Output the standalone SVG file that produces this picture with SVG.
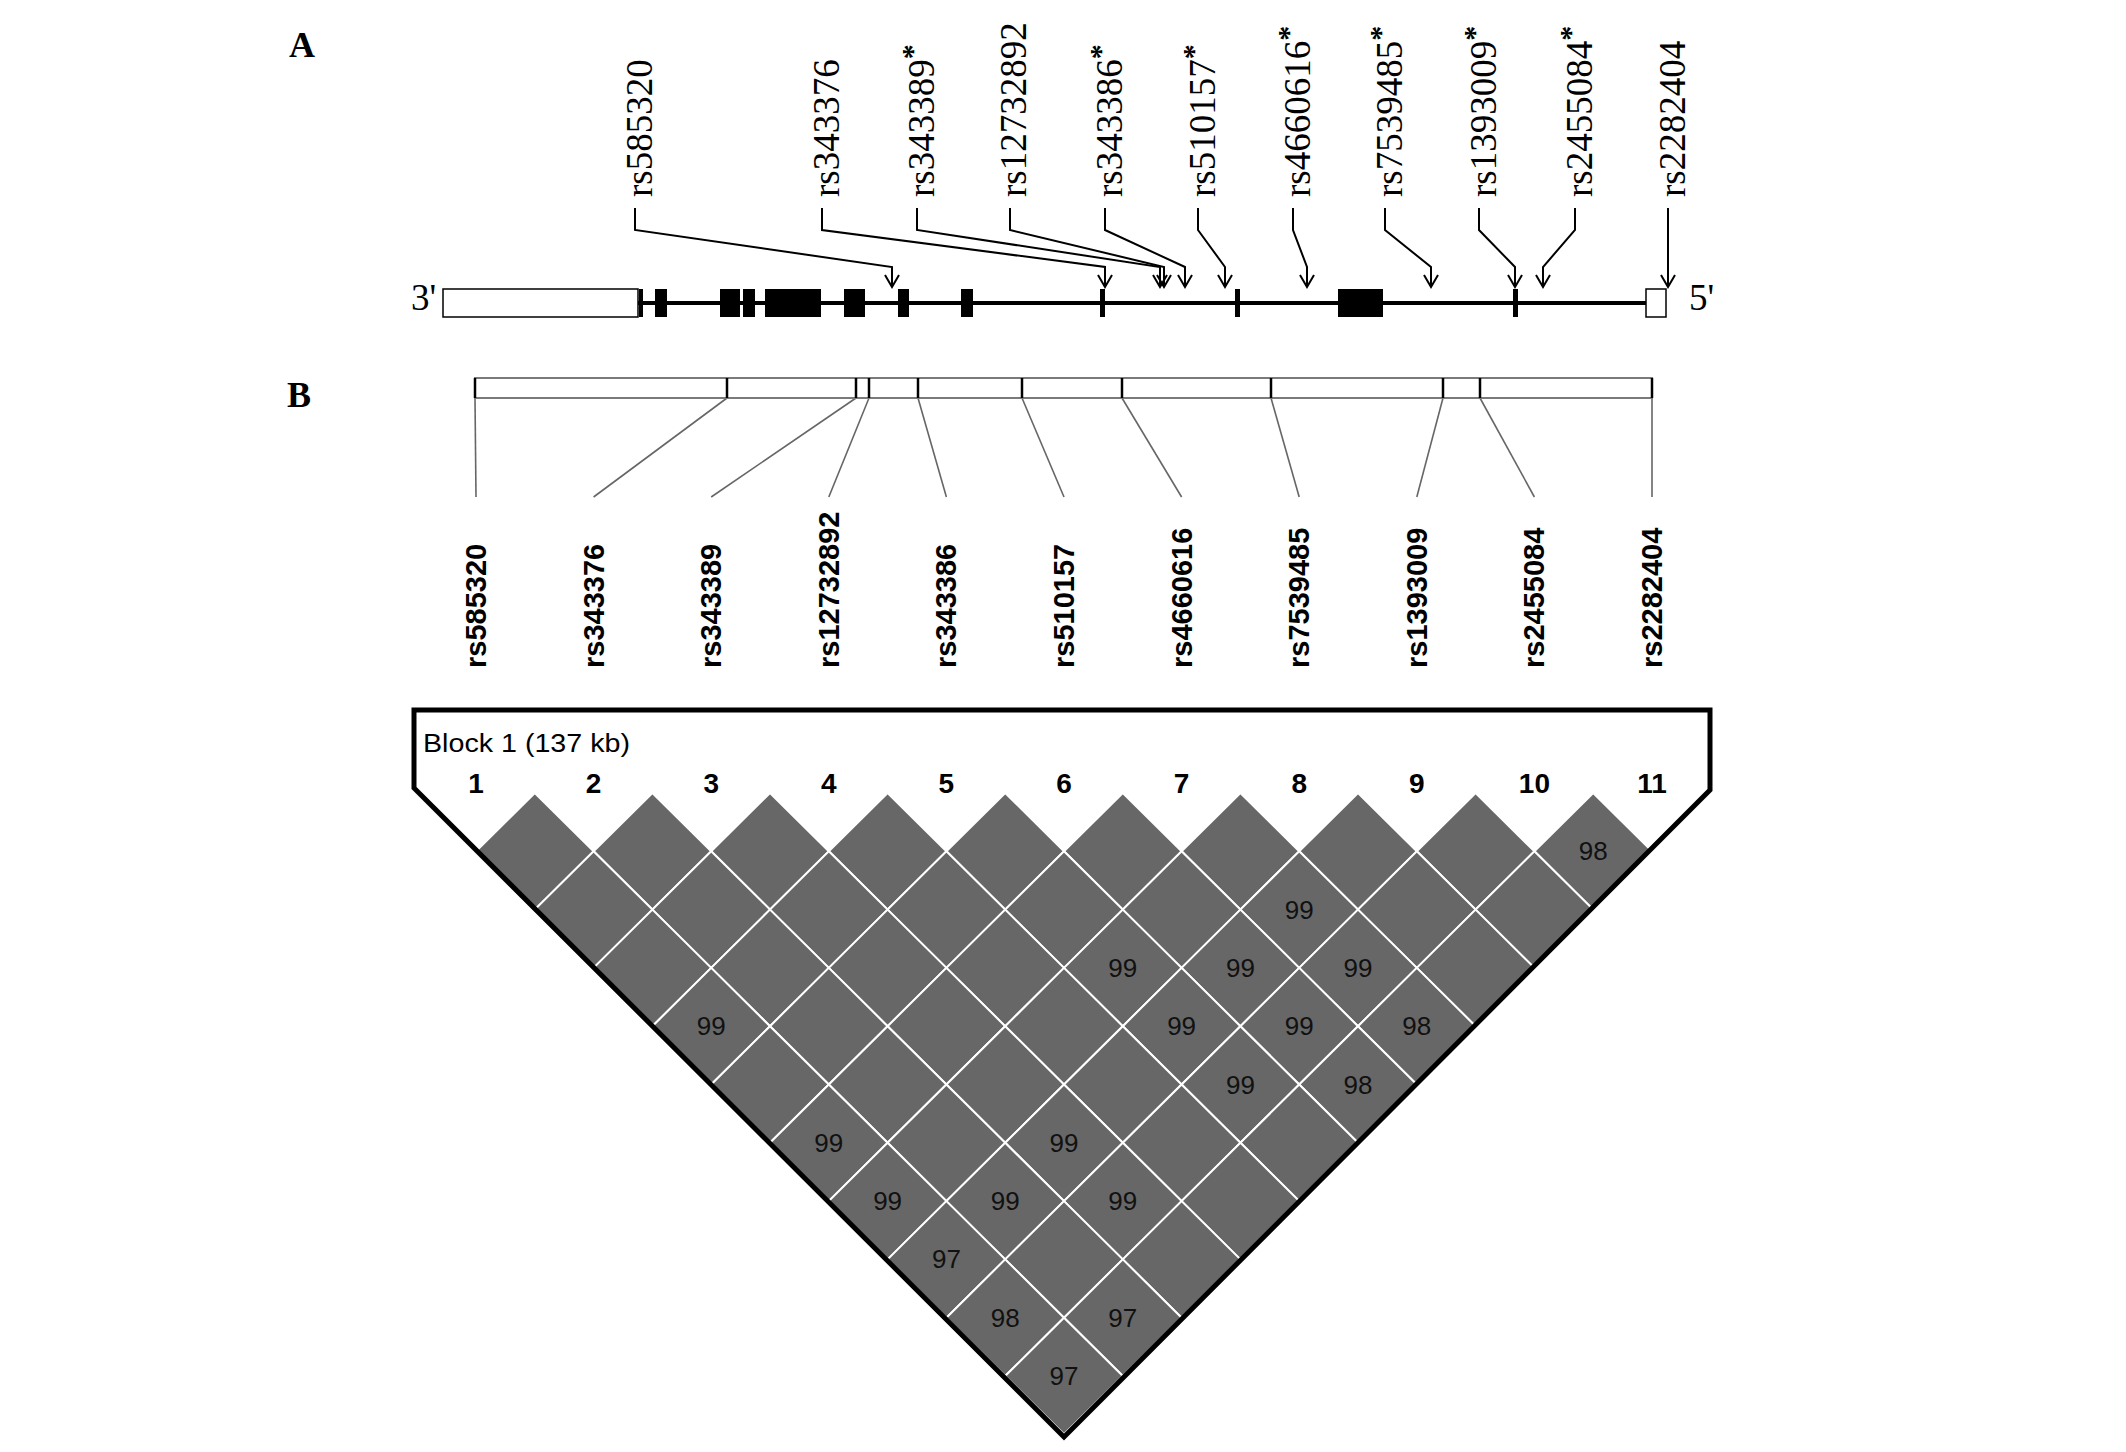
<svg xmlns="http://www.w3.org/2000/svg" xmlns:xlink="http://www.w3.org/1999/xlink" width="2126" height="1452" viewBox="0 0 2126 1452">
<style>
.panel{font-family:"Liberation Serif","Times New Roman",serif;font-weight:bold;font-size:36px;fill:#000}
.snpA{font-family:"Liberation Serif","Times New Roman",serif;font-size:37px;fill:#000}
.star{font-size:30px;font-weight:bold}
.snpB{font-family:"Liberation Sans",Arial,sans-serif;font-weight:bold;font-size:29px;fill:#000}
.idx{font-family:"Liberation Sans",Arial,sans-serif;font-weight:bold;font-size:28px;fill:#000;text-anchor:middle}
.ld{font-family:"Liberation Sans",Arial,sans-serif;font-size:26px;fill:#111;text-anchor:middle}
.blk{font-family:"Liberation Sans",Arial,sans-serif;font-size:26px;fill:#000}
.exon{fill:#000}
.utr{fill:#fff;stroke:#000;stroke-width:1.5}
.lead{fill:none;stroke:#000;stroke-width:2}
.conn{fill:none;stroke:#666;stroke-width:1.6}
.tick{stroke:#000;stroke-width:2.5}
.cell{fill:#676767;stroke:#fff;stroke-width:2}
</style>
<defs>
<marker id="ah" markerUnits="userSpaceOnUse" viewBox="-14 -10 16 20" markerWidth="16" markerHeight="20" refX="0" refY="0" orient="auto">
<path d="M-12,-7 L0,0 L-12,7" fill="none" stroke="#000" stroke-width="2"/>
</marker>
<path id="dm" d="M0,-58.3 L58.8,0 L0,58.3 L-58.8,0Z"/>
</defs>
<rect width="2126" height="1452" fill="#fff"/>

<text class="panel" x="289" y="57">A</text>
<text class="panel" x="287" y="407">B</text>

<g id="gene">
<line x1="638" y1="303" x2="1646" y2="303" stroke="#000" stroke-width="4"/>
<rect class="utr" x="443" y="289" width="195" height="28"/>
<rect class="exon" x="639" y="289" width="4" height="28"/>
<rect class="exon" x="655" y="289" width="12" height="28"/>
<rect class="exon" x="720" y="289" width="20" height="28"/>
<rect class="exon" x="743" y="289" width="12" height="28"/>
<rect class="exon" x="765" y="289" width="56" height="28"/>
<rect class="exon" x="844" y="289" width="21" height="28"/>
<rect class="exon" x="898" y="289" width="11" height="28"/>
<rect class="exon" x="961" y="289" width="12" height="28"/>
<rect class="exon" x="1100" y="289" width="5" height="28"/>
<rect class="exon" x="1235" y="289" width="5" height="28"/>
<rect class="exon" x="1338" y="289" width="45" height="28"/>
<rect class="exon" x="1513" y="289" width="5" height="28"/>
<rect class="utr" x="1646" y="289" width="20" height="28"/>
<text class="snpA" x="411" y="310">3'</text>
<text class="snpA" x="1689" y="310">5'</text>
</g>

<g id="snp-labels-A">
<text class="snpA" transform="translate(652,197) rotate(-90)">rs585320</text>
<text class="snpA" transform="translate(839,197) rotate(-90)">rs343376</text>
<text class="snpA" transform="translate(934,197) rotate(-90)">rs343389<tspan class="star" dy="-12">*</tspan></text>
<text class="snpA" transform="translate(1026,197) rotate(-90)">rs12732892</text>
<text class="snpA" transform="translate(1122,197) rotate(-90)">rs343386<tspan class="star" dy="-12">*</tspan></text>
<text class="snpA" transform="translate(1215,197) rotate(-90)">rs510157<tspan class="star" dy="-12">*</tspan></text>
<text class="snpA" transform="translate(1310,197) rotate(-90)">rs4660616<tspan class="star" dy="-12">*</tspan></text>
<text class="snpA" transform="translate(1402,197) rotate(-90)">rs7539485<tspan class="star" dy="-12">*</tspan></text>
<text class="snpA" transform="translate(1496,197) rotate(-90)">rs1393009<tspan class="star" dy="-12">*</tspan></text>
<text class="snpA" transform="translate(1592,197) rotate(-90)">rs2455084<tspan class="star" dy="-12">*</tspan></text>
<text class="snpA" transform="translate(1685,197) rotate(-90)">rs2282404</text>
</g>

<g id="connectors">
<g id="leaders-A">
<polyline class="lead" marker-end="url(#ah)" points="635,208 635,230 892,267 892,287"/>
<polyline class="lead" marker-end="url(#ah)" points="822,208 822,230 1105,267 1105,287"/>
<polyline class="lead" marker-end="url(#ah)" points="917,208 917,230 1160,267 1160,287"/>
<polyline class="lead" marker-end="url(#ah)" points="1010,208 1010,230 1164,267 1164,287"/>
<polyline class="lead" marker-end="url(#ah)" points="1105,208 1105,230 1185,267 1185,287"/>
<polyline class="lead" marker-end="url(#ah)" points="1198,208 1198,230 1225,267 1225,287"/>
<polyline class="lead" marker-end="url(#ah)" points="1293,208 1293,230 1307,267 1307,287"/>
<polyline class="lead" marker-end="url(#ah)" points="1385,208 1385,230 1431,267 1431,287"/>
<polyline class="lead" marker-end="url(#ah)" points="1479,208 1479,230 1515,267 1515,287"/>
<polyline class="lead" marker-end="url(#ah)" points="1575,208 1575,230 1543,267 1543,287"/>
<polyline class="lead" marker-end="url(#ah)" points="1668,208 1668,287"/>
</g>
<g id="leaders-B">
<line class="conn" x1="475" y1="398" x2="476" y2="497"/>
<line class="conn" x1="727" y1="398" x2="593.6" y2="497"/>
<line class="conn" x1="856" y1="398" x2="711.2" y2="497"/>
<line class="conn" x1="869" y1="398" x2="828.8" y2="497"/>
<line class="conn" x1="918" y1="398" x2="946.4" y2="497"/>
<line class="conn" x1="1022" y1="398" x2="1064" y2="497"/>
<line class="conn" x1="1122" y1="398" x2="1181.6" y2="497"/>
<line class="conn" x1="1271" y1="398" x2="1299.2" y2="497"/>
<line class="conn" x1="1443" y1="398" x2="1416.8" y2="497"/>
<line class="conn" x1="1480" y1="398" x2="1534.4" y2="497"/>
<line class="conn" x1="1652" y1="398" x2="1652" y2="497"/>
</g>
</g>

<g id="position-bar">
<rect x="475" y="378" width="1177" height="20" fill="none" stroke="#7a7a7a" stroke-width="2"/>
<line class="tick" x1="475" y1="378" x2="475" y2="398"/>
<line class="tick" x1="727" y1="378" x2="727" y2="398"/>
<line class="tick" x1="856" y1="378" x2="856" y2="398"/>
<line class="tick" x1="869" y1="378" x2="869" y2="398"/>
<line class="tick" x1="918" y1="378" x2="918" y2="398"/>
<line class="tick" x1="1022" y1="378" x2="1022" y2="398"/>
<line class="tick" x1="1122" y1="378" x2="1122" y2="398"/>
<line class="tick" x1="1271" y1="378" x2="1271" y2="398"/>
<line class="tick" x1="1443" y1="378" x2="1443" y2="398"/>
<line class="tick" x1="1480" y1="378" x2="1480" y2="398"/>
<line class="tick" x1="1652" y1="378" x2="1652" y2="398"/>
</g>

<g id="snp-labels-B">
<text class="snpB" transform="translate(486,668) rotate(-90)">rs585320</text>
<text class="snpB" transform="translate(603.6,668) rotate(-90)">rs343376</text>
<text class="snpB" transform="translate(721.2,668) rotate(-90)">rs343389</text>
<text class="snpB" transform="translate(838.8,668) rotate(-90)">rs12732892</text>
<text class="snpB" transform="translate(956.4,668) rotate(-90)">rs343386</text>
<text class="snpB" transform="translate(1074,668) rotate(-90)">rs510157</text>
<text class="snpB" transform="translate(1191.6,668) rotate(-90)">rs4660616</text>
<text class="snpB" transform="translate(1309.2,668) rotate(-90)">rs7539485</text>
<text class="snpB" transform="translate(1426.8,668) rotate(-90)">rs1393009</text>
<text class="snpB" transform="translate(1544.4,668) rotate(-90)">rs2455084</text>
<text class="snpB" transform="translate(1662,668) rotate(-90)">rs2282404</text>
</g>

<g id="ld-block">
<path d="M414,710 L1710,710 L1710,790 L1064,1437 L414,788 Z" fill="#fff" stroke="none"/>
<g id="cells" class="cell">
<use xlink:href="#dm" x="534.8" y="851.3"/><use xlink:href="#dm" x="652.4" y="851.3"/><use xlink:href="#dm" x="770" y="851.3"/><use xlink:href="#dm" x="887.6" y="851.3"/><use xlink:href="#dm" x="1005.2" y="851.3"/><use xlink:href="#dm" x="1122.8" y="851.3"/><use xlink:href="#dm" x="1240.4" y="851.3"/><use xlink:href="#dm" x="1358" y="851.3"/><use xlink:href="#dm" x="1475.6" y="851.3"/><use xlink:href="#dm" x="1593.2" y="851.3"/>
<use xlink:href="#dm" x="593.6" y="909.6"/><use xlink:href="#dm" x="711.2" y="909.6"/><use xlink:href="#dm" x="828.8" y="909.6"/><use xlink:href="#dm" x="946.4" y="909.6"/><use xlink:href="#dm" x="1064" y="909.6"/><use xlink:href="#dm" x="1181.6" y="909.6"/><use xlink:href="#dm" x="1299.2" y="909.6"/><use xlink:href="#dm" x="1416.8" y="909.6"/><use xlink:href="#dm" x="1534.4" y="909.6"/>
<use xlink:href="#dm" x="652.4" y="967.9"/><use xlink:href="#dm" x="770" y="967.9"/><use xlink:href="#dm" x="887.6" y="967.9"/><use xlink:href="#dm" x="1005.2" y="967.9"/><use xlink:href="#dm" x="1122.8" y="967.9"/><use xlink:href="#dm" x="1240.4" y="967.9"/><use xlink:href="#dm" x="1358" y="967.9"/><use xlink:href="#dm" x="1475.6" y="967.9"/>
<use xlink:href="#dm" x="711.2" y="1026.2"/><use xlink:href="#dm" x="828.8" y="1026.2"/><use xlink:href="#dm" x="946.4" y="1026.2"/><use xlink:href="#dm" x="1064" y="1026.2"/><use xlink:href="#dm" x="1181.6" y="1026.2"/><use xlink:href="#dm" x="1299.2" y="1026.2"/><use xlink:href="#dm" x="1416.8" y="1026.2"/>
<use xlink:href="#dm" x="770" y="1084.5"/><use xlink:href="#dm" x="887.6" y="1084.5"/><use xlink:href="#dm" x="1005.2" y="1084.5"/><use xlink:href="#dm" x="1122.8" y="1084.5"/><use xlink:href="#dm" x="1240.4" y="1084.5"/><use xlink:href="#dm" x="1358" y="1084.5"/>
<use xlink:href="#dm" x="828.8" y="1142.8"/><use xlink:href="#dm" x="946.4" y="1142.8"/><use xlink:href="#dm" x="1064" y="1142.8"/><use xlink:href="#dm" x="1181.6" y="1142.8"/><use xlink:href="#dm" x="1299.2" y="1142.8"/>
<use xlink:href="#dm" x="887.6" y="1201.1"/><use xlink:href="#dm" x="1005.2" y="1201.1"/><use xlink:href="#dm" x="1122.8" y="1201.1"/><use xlink:href="#dm" x="1240.4" y="1201.1"/>
<use xlink:href="#dm" x="946.4" y="1259.4"/><use xlink:href="#dm" x="1064" y="1259.4"/><use xlink:href="#dm" x="1181.6" y="1259.4"/>
<use xlink:href="#dm" x="1005.2" y="1317.7"/><use xlink:href="#dm" x="1122.8" y="1317.7"/>
<use xlink:href="#dm" x="1064" y="1376"/>
</g>
<path d="M414,710 L1710,710 L1710,790 L1064,1437 L414,788 Z" fill="none" stroke="#000" stroke-width="5" stroke-linejoin="miter"/>
<text class="blk" x="423" y="752" textLength="207" lengthAdjust="spacingAndGlyphs">Block 1 (137 kb)</text>
<g id="indices">
<text class="idx" x="476" y="793">1</text><text class="idx" x="593.6" y="793">2</text><text class="idx" x="711.2" y="793">3</text><text class="idx" x="828.8" y="793">4</text><text class="idx" x="946.4" y="793">5</text><text class="idx" x="1064" y="793">6</text><text class="idx" x="1181.6" y="793">7</text><text class="idx" x="1299.2" y="793">8</text><text class="idx" x="1416.8" y="793">9</text><text class="idx" x="1534.4" y="793">10</text><text class="idx" x="1652" y="793">11</text>
</g>
<g id="ld-values">
<text class="ld" x="1593.2" y="860.3">98</text>
<text class="ld" x="1299.2" y="918.6">99</text>
<text class="ld" x="1122.8" y="976.9">99</text><text class="ld" x="1240.4" y="976.9">99</text><text class="ld" x="1358" y="976.9">99</text>
<text class="ld" x="711.2" y="1035.2">99</text><text class="ld" x="1181.6" y="1035.2">99</text><text class="ld" x="1299.2" y="1035.2">99</text><text class="ld" x="1416.8" y="1035.2">98</text>
<text class="ld" x="1240.4" y="1093.5">99</text><text class="ld" x="1358" y="1093.5">98</text>
<text class="ld" x="828.8" y="1151.8">99</text><text class="ld" x="1064" y="1151.8">99</text>
<text class="ld" x="887.6" y="1210.1">99</text><text class="ld" x="1005.2" y="1210.1">99</text><text class="ld" x="1122.8" y="1210.1">99</text>
<text class="ld" x="946.4" y="1268.4">97</text>
<text class="ld" x="1005.2" y="1326.7">98</text><text class="ld" x="1122.8" y="1326.7">97</text>
<text class="ld" x="1064" y="1385">97</text>
</g>
</g>
</svg>
